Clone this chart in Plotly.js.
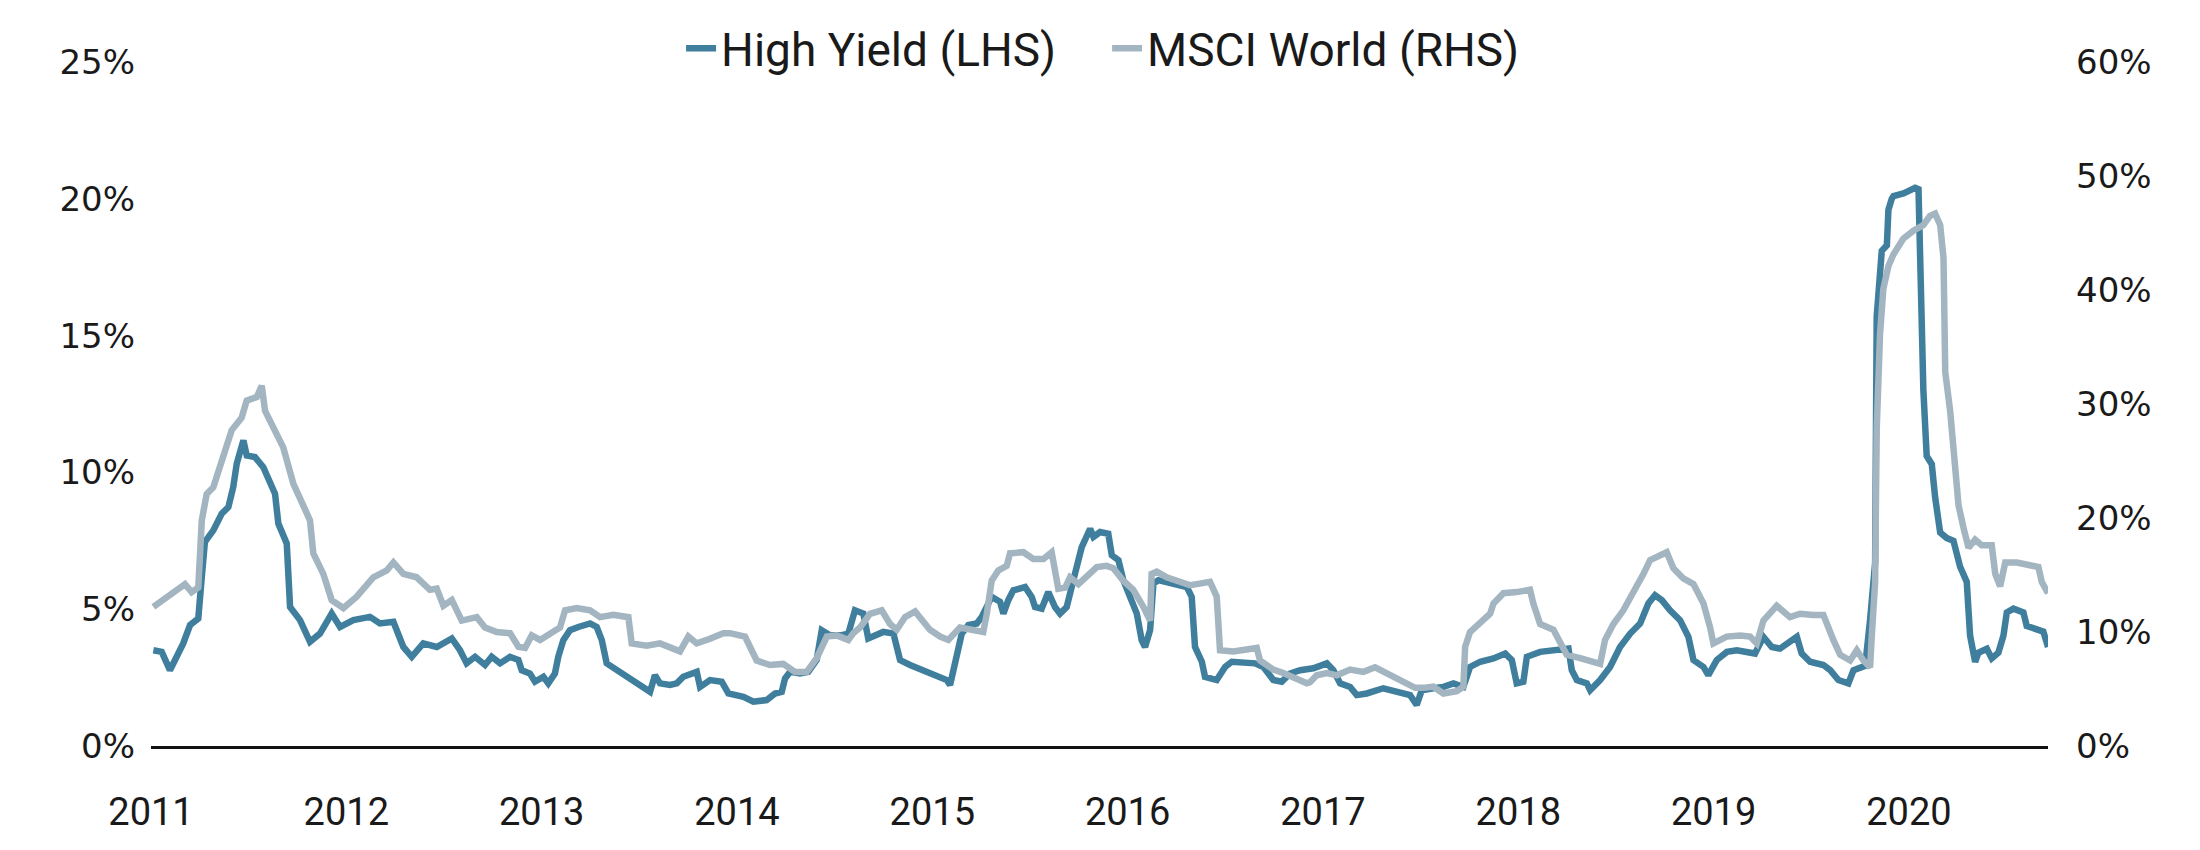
<!DOCTYPE html>
<html>
<head>
<meta charset="utf-8">
<script src="https://cdn.plot.ly/plotly-3.0.1.min.js"></script>
<style>html,body{margin:0;padding:0;background:#fff;}#chart{width:2200px;height:850px;}</style>
</head>
<body>
<div id="chart"></div>
<script>
// Time expressed as decimal years
const hyYears = [2011.012,2011.055,2011.097,2011.132,2011.165,2011.200,2011.242,2011.260,2011.276,2011.319,2011.362,2011.396,2011.421,2011.439,2011.473,2011.490,2011.532,2011.575,2011.609,2011.635,2011.652,2011.695,2011.712,2011.763,2011.814,2011.865,2011.925,2011.968,2012.036,2012.121,2012.172,2012.241,2012.292,2012.335,2012.394,2012.463,2012.540,2012.582,2012.616,2012.659,2012.710,2012.744,2012.787,2012.838,2012.881,2012.898,2012.940,2012.966,2013.009,2013.034,2013.068,2013.085,2013.111,2013.145,2013.188,2013.248,2013.282,2013.308,2013.333,2013.384,2013.453,2013.521,2013.555,2013.580,2013.606,2013.657,2013.692,2013.725,2013.794,2013.811,2013.862,2013.922,2013.956,2014.033,2014.084,2014.152,2014.195,2014.229,2014.246,2014.272,2014.323,2014.365,2014.408,2014.434,2014.476,2014.536,2014.570,2014.604,2014.647,2014.672,2014.716,2014.749,2014.801,2014.835,2014.886,2014.954,2015.005,2015.074,2015.091,2015.125,2015.151,2015.185,2015.228,2015.253,2015.304,2015.347,2015.364,2015.389,2015.415,2015.475,2015.509,2015.526,2015.560,2015.594,2015.628,2015.654,2015.688,2015.722,2015.765,2015.808,2015.825,2015.859,2015.901,2015.919,2015.953,2015.978,2016.012,2016.047,2016.072,2016.089,2016.115,2016.132,2016.157,2016.200,2016.252,2016.303,2016.328,2016.345,2016.380,2016.396,2016.456,2016.499,2016.533,2016.593,2016.652,2016.695,2016.746,2016.789,2016.832,2016.883,2016.951,2017.020,2017.053,2017.088,2017.139,2017.173,2017.224,2017.309,2017.378,2017.446,2017.480,2017.506,2017.565,2017.617,2017.668,2017.719,2017.753,2017.805,2017.873,2017.933,2017.967,2017.992,2018.026,2018.044,2018.112,2018.180,2018.231,2018.257,2018.274,2018.300,2018.351,2018.368,2018.419,2018.470,2018.521,2018.573,2018.624,2018.666,2018.700,2018.735,2018.777,2018.828,2018.871,2018.897,2018.948,2018.973,2019.016,2019.068,2019.119,2019.170,2019.212,2019.255,2019.298,2019.340,2019.391,2019.426,2019.451,2019.494,2019.562,2019.597,2019.639,2019.690,2019.716,2019.750,2019.776,2019.801,2019.827,2019.835,2019.852,2019.861,2019.887,2019.895,2019.912,2019.921,2019.972,2020.006,2020.032,2020.049,2020.057,2020.066,2020.074,2020.091,2020.117,2020.134,2020.160,2020.194,2020.228,2020.262,2020.296,2020.313,2020.339,2020.356,2020.399,2020.424,2020.458,2020.484,2020.501,2020.535,2020.586,2020.603,2020.654,2020.688,2020.706,2020.712];
const hyValues = [3.50,3.44,2.77,3.26,3.75,4.42,4.66,6.18,7.46,7.88,8.49,8.73,9.46,10.32,11.17,10.62,10.56,10.19,9.71,9.22,8.13,7.40,5.08,4.60,3.81,4.11,4.84,4.35,4.60,4.72,4.48,4.54,3.62,3.26,3.75,3.62,3.93,3.50,3.02,3.26,2.96,3.26,3.02,3.26,3.14,2.77,2.65,2.35,2.53,2.29,2.65,3.26,3.87,4.23,4.35,4.48,4.35,3.87,3.02,2.77,2.47,2.11,1.98,2.59,2.29,2.23,2.29,2.53,2.71,2.16,2.41,2.35,1.92,1.80,1.62,1.68,1.92,1.98,2.47,2.71,2.65,2.71,3.14,4.23,4.05,4.05,4.11,4.96,4.84,3.93,4.05,4.17,4.11,3.14,2.96,2.77,2.59,2.41,2.23,3.26,4.11,4.42,4.48,4.72,5.45,5.27,4.84,5.33,5.69,5.81,5.45,5.08,5.02,5.63,5.08,4.84,5.08,6.06,7.27,7.94,7.64,7.82,7.76,6.97,6.79,6.06,5.45,4.84,3.87,3.62,4.23,5.94,6.06,6.00,5.94,5.81,5.45,3.62,3.08,2.53,2.41,2.89,3.08,3.02,3.02,2.89,2.41,2.35,2.65,2.77,2.84,3.02,2.77,2.29,2.16,1.86,1.92,2.11,1.98,1.86,1.50,2.04,2.11,2.16,2.29,2.16,2.89,3.08,3.20,3.38,3.14,2.29,2.35,3.26,3.44,3.50,3.50,3.56,2.77,2.41,2.29,2.04,2.41,2.89,3.62,4.11,4.48,5.21,5.51,5.33,4.96,4.60,3.99,3.14,2.89,2.59,3.14,3.44,3.50,3.44,3.38,3.99,3.62,3.56,3.81,3.99,3.38,3.08,2.96,2.77,2.41,2.29,2.77,2.86,2.93,4.60,6.70,15.7,17.4,18.1,18.3,19.6,20.0,20.1,20.2,20.3,20.4,20.35,17.1,15.0,13.0,10.6,10.3,9.1,7.8,7.6,7.5,6.55,6.0,4.04,3.07,3.41,3.55,3.2,3.41,4.04,4.88,5.02,4.88,4.39,4.25,4.18,3.76,3.62];

const msciYears = [2011.012,2011.063,2011.114,2011.174,2011.208,2011.242,2011.260,2011.285,2011.319,2011.362,2011.413,2011.464,2011.490,2011.541,2011.567,2011.584,2011.626,2011.677,2011.729,2011.780,2011.814,2011.831,2011.882,2011.925,2011.985,2012.053,2012.138,2012.207,2012.241,2012.292,2012.360,2012.428,2012.463,2012.497,2012.540,2012.591,2012.668,2012.710,2012.770,2012.838,2012.881,2012.915,2012.949,2012.992,2013.043,2013.094,2013.120,2013.180,2013.248,2013.299,2013.367,2013.444,2013.461,2013.538,2013.606,2013.657,2013.708,2013.751,2013.794,2013.862,2013.930,2013.964,2014.041,2014.101,2014.169,2014.237,2014.297,2014.357,2014.408,2014.460,2014.511,2014.570,2014.596,2014.630,2014.681,2014.741,2014.784,2014.818,2014.860,2014.912,2014.937,2014.988,2015.040,2015.082,2015.142,2015.193,2015.261,2015.279,2015.304,2015.338,2015.381,2015.398,2015.466,2015.517,2015.569,2015.611,2015.645,2015.680,2015.705,2015.748,2015.799,2015.842,2015.893,2015.927,2015.978,2016.029,2016.081,2016.115,2016.123,2016.149,2016.200,2016.268,2016.320,2016.354,2016.422,2016.456,2016.473,2016.541,2016.610,2016.661,2016.678,2016.746,2016.797,2016.866,2016.917,2016.934,2016.968,2017.020,2017.071,2017.139,2017.207,2017.267,2017.327,2017.395,2017.472,2017.514,2017.565,2017.617,2017.685,2017.719,2017.728,2017.753,2017.805,2017.856,2017.873,2017.924,2017.992,2018.060,2018.077,2018.112,2018.180,2018.214,2018.248,2018.317,2018.385,2018.419,2018.444,2018.487,2018.538,2018.590,2018.641,2018.675,2018.717,2018.760,2018.794,2018.845,2018.897,2018.948,2018.982,2018.999,2019.067,2019.136,2019.187,2019.221,2019.255,2019.323,2019.391,2019.443,2019.511,2019.562,2019.613,2019.648,2019.699,2019.733,2019.767,2019.801,2019.809,2019.827,2019.835,2019.852,2019.869,2019.895,2019.920,2019.971,2020.023,2020.074,2020.108,2020.134,2020.160,2020.177,2020.186,2020.211,2020.237,2020.254,2020.280,2020.305,2020.339,2020.373,2020.424,2020.442,2020.467,2020.493,2020.553,2020.621,2020.663,2020.680,2020.700,2020.712];
const msciValues = [12.2,12.8,13.4,14.2,13.5,13.9,19.8,22.1,22.7,25.0,27.7,28.8,30.3,30.6,31.6,29.4,28.0,26.2,23.0,20.9,19.8,16.9,15.1,12.8,12.1,13.1,14.8,15.4,16.1,15.1,14.8,13.7,13.8,12.3,12.8,11.0,11.3,10.4,10.0,9.9,8.7,8.6,9.7,9.3,9.9,10.4,11.9,12.1,11.9,11.3,11.5,11.3,9.0,8.8,9.0,8.6,8.3,9.6,9.0,9.4,9.9,9.9,9.6,7.5,7.1,7.2,6.5,6.5,7.7,9.6,9.7,9.3,9.9,10.4,11.6,11.9,10.7,10.2,11.3,11.8,11.3,10.2,9.6,9.3,10.4,10.2,10.0,11.6,14.5,15.4,15.8,16.9,17.0,16.4,16.4,17.0,13.8,13.9,14.8,14.2,15.1,15.7,15.8,15.6,14.5,13.7,12.2,11.0,15.1,15.3,14.8,14.4,14.1,14.2,14.4,13.1,8.4,8.3,8.4,8.6,7.5,6.7,6.4,5.9,5.5,5.6,6.2,6.4,6.2,6.7,6.5,6.9,6.4,5.9,5.1,5.1,5.2,4.6,4.8,5.2,8.7,10.0,10.9,11.6,12.5,13.4,13.5,13.7,12.5,10.7,10.2,9.0,8.0,7.7,7.4,7.2,9.3,10.7,11.9,13.4,15.1,16.3,16.7,17.0,15.6,14.7,14.2,12.5,10.4,9.0,9.6,9.7,9.6,9.0,11.0,12.3,11.3,11.6,11.5,11.5,9.3,8.0,7.5,8.4,7.5,6.9,9.4,14.4,27.8,36.1,40.1,42.1,43.1,44.5,45.2,45.7,46.5,46.7,45.7,42.8,32.8,29.4,24.4,21.1,19.1,17.4,18.1,17.6,17.6,15.1,14.0,16.1,16.1,15.9,15.7,14.4,13.9,13.4];

const seriesNames = ['High Yield (LHS)', 'MSCI World (RHS)'];
const yearTicks = [2011,2012,2013,2014,2015,2016,2017,2018,2019,2020];
const yearLabels = ['2011','2012','2013','2014','2015','2016','2017','2018','2019','2020'];
const leftTicks = [0,5,10,15,20,25];
const leftLabels = ['0%','5%','10%','15%','20%','25%'];
const rightTicks = [0,10,20,30,40,50,60];
const rightLabels = ['0%','10%','20%','30%','40%','50%','60%'];

const narrow = 'Roboto, "Liberation Sans Narrow", sans-serif';
const wide = '"DejaVu Sans", "Noto Sans", sans-serif';

const traces = [
  {x: hyYears, y: hyValues, name: seriesNames[0], type: 'scatter', mode: 'lines',
   line: {color: '#3F7F9D', width: 6.5}, yaxis: 'y', hoverinfo: 'skip'},
  {x: msciYears, y: msciValues, name: seriesNames[1], type: 'scatter', mode: 'lines',
   line: {color: '#A3B5C1', width: 6.5}, yaxis: 'y2', hoverinfo: 'skip'}
];

const layout = {
  width: 2200, height: 850,
  margin: {l: 151, r: 152, t: 60, b: 104, pad: 0},
  paper_bgcolor: '#ffffff', plot_bgcolor: '#ffffff',
  showlegend: true,
  legend: {orientation: 'h', x: 0.504, xanchor: 'center', y: 1.02, yanchor: 'middle',
    entrywidth: 381, entrywidthmode: 'pixels',
    font: {family: narrow, size: 46, color: '#1a1a1a'}, bgcolor: 'rgba(0,0,0,0)', traceorder: 'normal'},
  xaxis: {type: 'linear', range: [2011, 2020.712], tickmode: 'array', tickvals: yearTicks, ticktext: yearLabels,
    showgrid: false, zeroline: false, showline: true, linecolor: '#111111', linewidth: 3,
    ticks: '', ticklabelstandoff: 30, tickfont: {family: narrow, size: 38, color: '#1a1a1a'}},
  yaxis: {range: [0, 25], tickmode: 'array', tickvals: leftTicks, ticktext: leftLabels, showgrid: false, zeroline: false,
    showline: false, ticks: '', ticklabelstandoff: 15, tickfont: {family: wide, size: 34, color: '#1a1a1a'}},
  yaxis2: {range: [0, 60], tickmode: 'array', tickvals: rightTicks, ticktext: rightLabels, overlaying: 'y', side: 'right',
    showgrid: false, zeroline: false, showline: false, ticks: '', ticklabelstandoff: 27,
    tickfont: {family: wide, size: 34, color: '#1a1a1a'}}
};

Plotly.newPlot('chart', traces, layout, {staticPlot: true, displayModeBar: false});
</script>
</body>
</html>
